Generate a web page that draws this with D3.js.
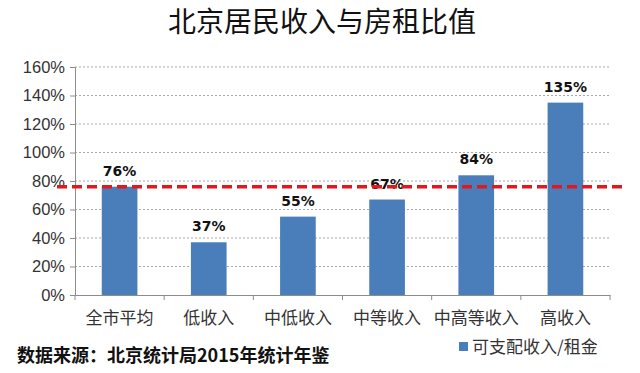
<!DOCTYPE html>
<html>
<head>
<meta charset="utf-8">
<script src="https://cdn.jsdelivr.net/npm/d3@7"></script>
<style>
  body { margin: 0; background: #fff; }
  svg { display: block; font-family: "Noto Sans CJK SC", "DejaVu Sans", sans-serif; }
</style>
</head>
<body>
<svg id="chart"></svg>
<script>
var width = 640;
var height = 373;

// data
var categories = ["全市平均", "低收入", "中低收入", "中等收入", "中高等收入", "高收入"];
var values = [76, 37, 55, 67, 84, 135];
var yTicks = [0, 20, 40, 60, 80, 100, 120, 140, 160];
var refValue = 76;
var seriesName = "可支配收入/租金";

var margin = { left: 75, right: 30, top: 67, bottom: 78 };

var svg = d3.select("#chart").attr("width", width).attr("height", height);

var x = d3.scaleBand()
    .domain(categories)
    .range([margin.left, width - margin.right])
    .paddingInner(0.6)
    .paddingOuter(0.3);

var y = d3.scaleLinear()
    .domain([0, 160])
    .range([height - margin.bottom, margin.top]);

// title
svg.append("text")
    .attr("x", 322)
    .attr("y", 32)
    .attr("text-anchor", "middle")
    .style("font-size", "28px")
    .style("fill", "#111")
    .text("北京居民收入与房租比值");

// gridlines
svg.append("g")
    .selectAll("line")
    .data(yTicks.slice(1))
    .enter()
    .append("line")
    .attr("x1", margin.left)
    .attr("x2", width - margin.right)
    .attr("y1", function (d) { return y(d); })
    .attr("y2", function (d) { return y(d); })
    .attr("stroke", "#a8a8a8")
    .attr("stroke-width", 1)
    .attr("stroke-dasharray", "2,2");

// y axis
var yAxis = svg.append("g")
    .attr("transform", "translate(" + margin.left + ",0)")
    .call(d3.axisLeft(y).tickValues(yTicks).tickSize(5).tickFormat(function (d) { return d + "%"; }));
yAxis.select(".domain").attr("stroke", "#8c8c8c");
yAxis.selectAll(".tick line").attr("stroke", "#8c8c8c");
yAxis.selectAll("text")
    .attr("x", -10)
    .style("font-family", "Liberation Sans, Arial, sans-serif")
    .style("font-size", "16.5px")
    .style("fill", "#333");

// x axis
var xAxis = svg.append("g")
    .attr("transform", "translate(0," + y(0) + ")")
    .call(d3.axisBottom(x).tickSize(0).tickSizeOuter(0));
xAxis.select(".domain").attr("stroke", "#8c8c8c");
xAxis.selectAll("text")
    .attr("dy", "1.55em")
    .style("font-family", "Noto Sans CJK SC, sans-serif")
    .style("font-size", "17px")
    .style("fill", "#333");

// tick marks between categories
var step = x.step();
var boundaries = d3.range(categories.length + 1).map(function (i) { return margin.left + i * step; });
svg.append("g")
    .selectAll("line")
    .data(boundaries)
    .enter()
    .append("line")
    .attr("x1", function (d) { return d; })
    .attr("x2", function (d) { return d; })
    .attr("y1", y(0))
    .attr("y2", y(0) + 5)
    .attr("stroke", "#8c8c8c");

// bars
svg.append("g")
    .selectAll("rect")
    .data(values)
    .enter()
    .append("rect")
    .attr("x", function (d, i) { return x(categories[i]); })
    .attr("y", function (d) { return y(d); })
    .attr("width", x.bandwidth())
    .attr("height", function (d) { return y(0) - y(d); })
    .attr("fill", "#4a7ebb");

// value labels
svg.append("g")
    .selectAll("text")
    .data(values)
    .enter()
    .append("text")
    .attr("x", function (d, i) { return x(categories[i]) + x.bandwidth() / 2; })
    .attr("y", function (d) { return y(d) - 11; })
    .attr("text-anchor", "middle")
    .style("font-family", "DejaVu Sans, sans-serif")
    .style("font-weight", "bold")
    .style("font-size", "14px")
    .style("fill", "#111")
    .text(function (d) { return d + "%"; });

// red dashed reference line
svg.append("line")
    .attr("x1", 57)
    .attr("x2", 627)
    .attr("y1", y(refValue))
    .attr("y2", y(refValue))
    .attr("stroke", "#e0191f")
    .attr("stroke-width", 3.5)
    .attr("stroke-dasharray", "10,5");

// source note
svg.append("text")
    .attr("x", 17)
    .attr("y", 362)
    .style("font-size", "18px")
    .style("font-weight", "bold")
    .style("fill", "#111")
    .text("数据来源：北京统计局2015年统计年鉴");

// legend
var legend = svg.append("g").attr("transform", "translate(459,342)");
legend.append("rect")
    .attr("x", 0)
    .attr("y", 0)
    .attr("width", 9)
    .attr("height", 9)
    .attr("fill", "#4a7ebb");
legend.append("text")
    .attr("x", 13)
    .attr("y", 11)
    .style("font-size", "17px")
    .style("fill", "#333")
    .text(seriesName);
</script>
</body>
</html>
